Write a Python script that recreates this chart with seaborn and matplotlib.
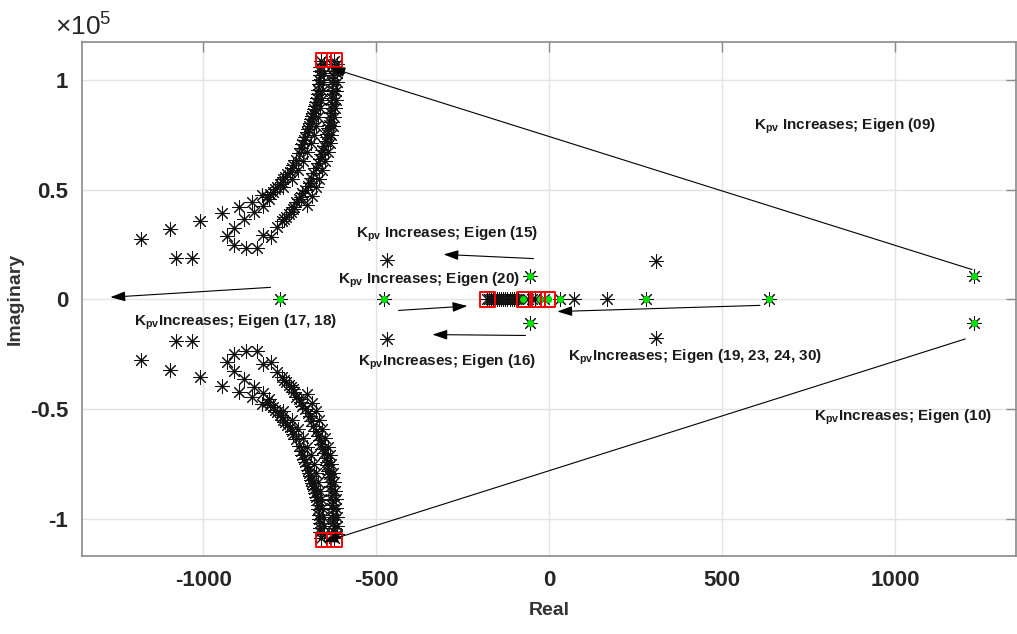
import numpy as np
import pandas as pd
import matplotlib
matplotlib.use("Agg")
import matplotlib.pyplot as plt
import seaborn as sns
from matplotlib.ticker import FuncFormatter

# ---------------- data (imaginary parts in units of 1e5) ----------------
# dense left branch of the upper locus
curve_a_re = [-660, -661, -662, -663, -664, -666, -667, -669, -671, -673, -676, -678, -681, -684,
              -687, -690, -693, -696, -700, -704, -708, -713, -718, -724, -731, -739, -744, -750,
              -756, -762, -768, -773, -779, -785, -792, -799, -806, -814]
curve_a_im = [1.085, 1.06, 1.04, 1.02, 1.0, 0.98, 0.955, 0.935, 0.915, 0.90, 0.88, 0.865, 0.85, 0.835,
              0.82, 0.805, 0.79, 0.775, 0.76, 0.74, 0.725, 0.708, 0.69, 0.668, 0.636, 0.612, 0.600, 0.582,
              0.570, 0.559, 0.548, 0.536, 0.525, 0.514, 0.503, 0.491, 0.48, 0.468]
# second strand of the left band
curve_a2_re = [-650, -651, -652, -655, -658, -662, -667, -673, -680, -689, -699, -711, -726, -744, -770]
curve_a2_im = [1.07, 1.03, 0.99, 0.95, 0.91, 0.87, 0.83, 0.79, 0.75, 0.71, 0.67, 0.63, 0.59, 0.55, 0.51]
# dense right branch of the upper locus
curve_b_re = [-622, -622, -622, -623, -623, -624, -625, -626, -627, -628, -629, -630, -632, -634,
              -636, -638, -641, -643, -646, -650, -655, -659, -663, -669, -675, -681, -687, -692,
              -698, -705, -713, -718, -724, -730, -736, -741, -747, -753, -759, -765, -771]
curve_b_im = [1.085, 1.06, 1.04, 1.02, 1.0, 0.98, 0.955, 0.935, 0.915, 0.89, 0.87, 0.85, 0.832, 0.81,
              0.795, 0.782, 0.755, 0.74, 0.72, 0.70, 0.68, 0.66, 0.64, 0.62, 0.60, 0.577, 0.555, 0.532,
              0.515, 0.50, 0.485, 0.468, 0.455, 0.445, 0.423, 0.41, 0.40, 0.39, 0.377, 0.366, 0.355]
# second strand of the right band
curve_b2_re = [-612, -613, -614, -615, -617, -619, -622, -625, -629, -634, -640, -647, -655, -664,
               -674, -686, -700]
curve_b2_im = [1.07, 1.03, 0.99, 0.95, 0.91, 0.87, 0.83, 0.79, 0.75, 0.71, 0.67, 0.63, 0.59, 0.55,
               0.51, 0.47, 0.43]
# sparse points of the loci (upper half)
sparse_re = [-785, -805, -828, -845, -877, -910, -930, -912, -883, -854, -828, -808,
             -831, -860, -897, -944, -1010, -1097, -1178, -1077, -1033]
sparse_im = [0.332, 0.286, 0.295, 0.236, 0.236, 0.25, 0.287, 0.327, 0.364, 0.397, 0.427, 0.455,
             0.477, 0.445, 0.42, 0.395, 0.355, 0.32, 0.277, 0.19, 0.187]
# black eigenvalues on / near the real axis
axis_re = [-180, -174, -168, -162, -156, -150, -144, -138, -132, -126, -120, -114, -108, -102, -96,
           -90, -62, -48, -40, -15, 71, 168, -779, -478, 33, 279, 637]
axis_im = [0] * 27
off_re = [310, -467, -54, 1229]
off_im = [0.175, 0.18, 0.105, 0.105]
# initial (green) eigenvalues
green_re = [-779, -478, 33, 279, 637, -74, -25, -2]
green_im = [0, 0, 0, 0, 0, 0, 0, 0]
green_pair_re = [-54, 1229]
green_pair_im = [0.105, 0.105]
# final (red square) eigenvalues
red_re = [-652, -620, -652, -620, -177, -71, -34, -3]
red_im = [1.09, 1.09, -1.095, -1.095, 0, 0, 0, 0]

xticks = [-1000, -500, 0, 500, 1000]
yticks = [-1.0, -0.5, 0.0, 0.5, 1.0]

# ---------------- build frames ----------------
def conj_frame(re, im):
    re = list(re)
    im = list(im)
    return pd.DataFrame({"re": re + re, "im": [v * 1e5 for v in im] + [-v * 1e5 for v in im]})

stars = pd.concat([
    conj_frame(curve_a_re, curve_a_im),
    conj_frame(curve_a2_re, curve_a2_im),
    conj_frame(curve_b_re, curve_b_im),
    conj_frame(curve_b2_re, curve_b2_im),
    conj_frame(sparse_re, sparse_im),
    conj_frame(off_re, off_im),
    pd.DataFrame({"re": axis_re, "im": [v * 1e5 for v in axis_im]}),
], ignore_index=True)
greens = pd.concat([
    pd.DataFrame({"re": green_re, "im": [v * 1e5 for v in green_im]}),
    conj_frame(green_pair_re, green_pair_im),
], ignore_index=True)
reds = pd.DataFrame({"re": red_re, "im": [v * 1e5 for v in red_im]})

# ---------------- style ----------------
sns.set_style("white")
FAM = ["Liberation Sans", "DejaVu Sans"]
plt.rcParams["font.family"] = FAM
plt.rcParams["mathtext.default"] = "regular"
plt.rcParams["axes.unicode_minus"] = False

fig = plt.figure(figsize=(10.17, 6.34), dpi=100)
ax = fig.add_axes([82 / 1017, 1 - 556 / 634, 934 / 1017, 514 / 634])

ax.set_xlim(-1350, 1350)
ax.set_ylim(-1.168e5, 1.172e5)

ax.grid(True, color="#e3e3e3", linewidth=1.0)
ax.set_axisbelow(True)

sns.scatterplot(data=greens, x="re", y="im", ax=ax, color="#00e000", marker="o",
                s=28, linewidth=0, zorder=3)
sns.scatterplot(data=stars, x="re", y="im", ax=ax, marker=(8, 2, 0), s=95,
                color="#111111", edgecolor="#111111", linewidth=0.75, zorder=4)
sns.scatterplot(data=greens, x="re", y="im", ax=ax, color="#00e000", marker="o",
                s=24, linewidth=0, zorder=5)
sns.scatterplot(data=reds, x="re", y="im", ax=ax, marker="s", s=110,
                facecolor="none", edgecolor="#ff0000", linewidth=1.4, zorder=6)

ax.set_xticks(xticks)
ax.set_yticks([v * 1e5 for v in yticks])
ax.yaxis.set_major_formatter(FuncFormatter(lambda v, p: f"{v / 1e5:g}"))
ax.xaxis.set_major_formatter(FuncFormatter(lambda v, p: f"{v:g}"))
ax.tick_params(axis="both", which="major", direction="in", length=7, width=1,
               color="#8a8a8a", labelsize=16, labelcolor="#262626", top=True, right=True, pad=10)
for lbl in ax.get_xticklabels() + ax.get_yticklabels():
    lbl.set_fontweight("bold")
for sp in ax.spines.values():
    sp.set_color("#8a8a8a")
    sp.set_linewidth(1.2)

ax.set_xlabel("Real", fontsize=14, fontweight="bold", color="#333333", labelpad=8)
ax.set_ylabel("Imaginary", fontsize=14, fontweight="bold", color="#333333", labelpad=4)
fig.text(55 / 1017, 1 - 36 / 634, r"$\times10^{5}$", fontsize=19, color="#262626")

# ---------------- annotations ----------------
arrow = dict(arrowstyle="-|>,head_length=0.9,head_width=0.3", color="black", lw=0.8,
             shrinkA=0, shrinkB=0)
arrows = [
    ((1223, 0.136e5), (-632, 1.055e5)),
    ((1203, -0.18e5), (-652, -1.105e5)),
    ((-805, 0.055e5), (-1268, 0.01e5)),
    ((-45, 0.186e5), (-305, 0.205e5)),
    ((-435, -0.05e5), (-236, -0.03e5)),
    ((-68, -0.164e5), (-337, -0.16e5)),
    ((610, -0.027e5), (24, -0.055e5)),
]
for start, end in arrows:
    ax.annotate("", xy=end, xytext=start, arrowprops=arrow, zorder=7)

texts = [
    (857, 0.79e5, "K$_{pv}$ Increases; Eigen (09)"),
    (1024, -0.536e5, "K$_{pv}$Increases; Eigen (10)"),
    (-906, -0.105e5, "K$_{pv}$Increases; Eigen (17, 18)"),
    (-296, 0.295e5, "K$_{pv}$ Increases; Eigen (15)"),
    (-346, 0.086e5, "K$_{pv}$ Increases; Eigen (20)"),
    (-296, -0.286e5, "K$_{pv}$Increases; Eigen (16)"),
    (423, -0.264e5, "K$_{pv}$Increases; Eigen (19, 23, 24, 30)"),
]
for x, y, t in texts:
    ax.text(x, y, t, ha="center", va="center", fontsize=11, fontweight="bold",
            color="#1a1a1a", zorder=8)

fig.savefig("out.png", dpi=100)
